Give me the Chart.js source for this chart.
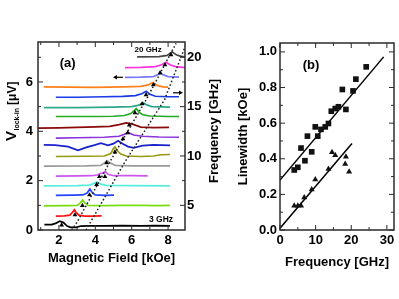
<!DOCTYPE html>
<html>
<head>
<meta charset="utf-8">
<title>FMR spectra and linewidth</title>
<script src="https://cdn.jsdelivr.net/npm/chart.js@4.4.0/dist/chart.umd.min.js"></script>
<style>
  body { margin: 0; background: #fff; }
  #wrapA { position: absolute; left: 0; top: 0; width: 222px; height: 299px; }
  #wrapB { position: absolute; left: 222px; top: 0; width: 177px; height: 299px; }
</style>
</head>
<body>
<div id="wrapA"><canvas id="chartA"></canvas></div>
<div id="wrapB"><canvas id="chartB"></canvas></div>
<script>
// ---- panel (a): lock-in traces, [field kOe, signal uV], one per frequency (GHz)
const freqsA = [3, 4, 5, 6, 7, 8, 9, 10, 11, 12, 13, 14, 15, 16, 17, 18, 19, 20];
const trace03 = [[1.2,0.22],[1.6,0.22],[1.85,0.28],[2.05,0.36],[2.25,0.3],[2.45,0.16],[2.65,0.11],[2.95,0.11],[3.2,0.16],[3.6,0.17],[4.5,0.17],[5.5,0.18],[6.5,0.17],[7.3,0.18],[8.1,0.17]];
const trace04 = [[1.83,0.56],[2.3,0.57],[2.6,0.6],[2.75,0.72],[2.85,0.82],[2.95,0.7],[3.1,0.6],[3.4,0.56],[3.8,0.56],[4.35,0.57]];
const trace05 = [[1.17,0.98],[2.5,0.99],[3.0,1.0],[3.18,1.1],[3.3,1.22],[3.42,1.1],[3.6,1.0],[4.5,0.99],[5.5,1.0],[6.5,1.0],[7.5,0.99],[8.1,1.0]];
const trace06 = [[1.83,1.4],[2.8,1.41],[3.3,1.42],[3.55,1.5],[3.7,1.66],[3.85,1.5],[4.0,1.42],[4.5,1.4],[5.03,1.41]];
const trace07 = [[1.17,1.79],[3.0,1.8],[3.7,1.82],[3.95,1.9],[4.1,1.95],[4.3,1.86],[4.6,1.81],[6,1.8],[8.11,1.79]];
const trace08 = [[1.83,2.18],[3.0,2.19],[3.8,2.2],[4.1,2.23],[4.3,2.3],[4.4,2.3],[4.55,2.37],[4.7,2.26],[5.0,2.2],[6.0,2.2],[6.88,2.19]];
const trace09 = [[1.17,2.59],[3.5,2.6],[4.3,2.62],[4.5,2.72],[4.65,2.81],[4.8,2.72],[5.1,2.62],[6,2.6],[8.11,2.6]];
const trace10 = [[1.83,2.98],[3.5,2.99],[4.5,3.0],[4.85,3.1],[5.0,3.3],[5.08,3.37],[5.2,3.22],[5.4,3.08],[5.7,3.0],[6.5,2.98],[7.2,3.0],[7.6,3.05],[8.11,3.06]];
const trace11 = [[1.17,3.45],[1.8,3.44],[2.5,3.38],[3.05,3.23],[3.5,3.35],[4.0,3.45],[4.3,3.52],[4.7,3.43],[5.0,3.5],[5.25,3.62],[5.5,3.5],[5.8,3.38],[6.1,3.33],[6.6,3.42],[7.2,3.45],[8.11,3.43]];
const trace12 = [[1.83,3.72],[3,3.74],[4.5,3.76],[5.3,3.8],[5.6,3.88],[5.8,3.95],[6.1,3.85],[6.6,3.8],[7.5,3.77],[8.6,3.76]];
const trace13 = [[0.85,4.13],[2,4.14],[3,4.16],[4,4.18],[4.8,4.2],[5.3,4.27],[5.7,4.34],[6.0,4.3],[6.5,4.17],[7.2,4.15],[8.05,4.16]];
const trace14 = [[1.83,4.6],[3,4.6],[4,4.6],[5,4.61],[5.6,4.64],[5.95,4.72],[6.15,4.85],[6.25,4.92],[6.4,4.78],[6.6,4.67],[7,4.62],[8,4.6],[8.6,4.6]];
const trace15 = [[1.17,4.96],[3,4.96],[5,4.98],[6,5.0],[6.4,5.06],[6.62,5.17],[6.8,5.08],[7.1,5.0],[8.11,4.98]];
const trace16 = [[1.83,5.38],[3,5.38],[4.5,5.4],[5.5,5.42],[6.2,5.45],[6.55,5.52],[6.8,5.62],[7.0,5.5],[7.3,5.42],[8,5.4],[8.6,5.4]];
const trace17 = [[1.17,5.8],[2.5,5.79],[4,5.78],[5.5,5.8],[6.5,5.82],[6.9,5.88],[7.17,5.98],[7.4,5.86],[7.7,5.8],[8.0,5.79]];
const trace18 = [[5.63,6.19],[6.5,6.2],[7.2,6.22],[7.45,6.3],[7.56,6.38],[7.7,6.3],[8,6.22],[8.6,6.2]];
const trace19 = [[5.63,6.58],[6.5,6.59],[7.3,6.62],[7.65,6.7],[7.89,6.8],[8.1,6.7],[8.4,6.62],[9.0,6.58]];
const trace20 = [[6.3,7.02],[7.5,7.03],[7.95,7.08],[8.22,7.22],[8.45,7.1],[8.7,7.04],[8.93,7.03]];
const tracesA = [trace03, trace04, trace05, trace06, trace07, trace08, trace09, trace10, trace11,
                 trace12, trace13, trace14, trace15, trace16, trace17, trace18, trace19, trace20];

// resonance positions (triangles) on the traces
const resField = [2.15, 2.88, 3.29, 3.68, 4.07, 4.22, 4.53, 4.62, 5.08, 5.52, 5.78, 5.87, 6.18, 6.57, 6.79, 7.19, 7.56, 7.83, 8.16];
const resVolt  = [0.2, 0.61, 0.99, 1.42, 1.84, 2.16, 2.16, 2.72, 3.16, 3.69, 3.94, 4.25, 4.75, 5.11, 5.48, 5.88, 6.37, 6.69, 7.1];

// dotted curves, [field kOe, frequency GHz]
const curveLeft  = [[2.7,2.5],[3.0,3.3],[4.86,9.6],[6.79,15.68],[8.16,20.45],[8.44,21.4]];
const curveRight = [[3.49,2.5],[5.63,9.4],[7.8,15.68],[9.08,21.77]];

const fieldTicks = [2, 4, 6, 8];
const voltTicks = [0, 2, 4, 6];
const freqTicksA = [5, 10, 15, 20];

// ---- panel (b): linewidth vs frequency
const sqFreq  = [4.0, 5.0, 5.9, 7.0, 7.7, 8.9, 9.9, 10.6, 11.5, 12.7, 13.6, 14.4, 15.5, 16.4, 17.5, 18.5, 20.5, 21.3, 24.2];
const sqWidth = [0.337, 0.352, 0.46, 0.389, 0.527, 0.439, 0.579, 0.527, 0.565, 0.579, 0.598, 0.667, 0.682, 0.692, 0.789, 0.677, 0.781, 0.847, 0.916];
const triFreq  = [4.0, 5.0, 5.9, 6.8, 8.9, 9.9, 13.6, 14.6, 15.5, 18.3, 18.5, 19.4];
const triWidth = [0.136, 0.136, 0.136, 0.183, 0.228, 0.284, 0.342, 0.436, 0.42, 0.37, 0.411, 0.327];
const fitUpper = [[0, 0.28], [29.1, 0.972]];
const fitLower = [[0, 0.01], [20.2, 0.486]];
const freqTicksB = [0, 10, 20, 30];
const widthTicks = [0, 0.2, 0.4, 0.6, 0.8, 1.0];

// ---- styles
const traceColors = ['#000000', '#ff1010', '#77dd11', '#2244ff', '#55eedd', '#cc55ee', '#9a9a9a', '#999911', '#1a22cc',
                     '#8833dd', '#8b0a0a', '#22aa22', '#2ea88a', '#1a3ae6', '#ff7f1a', '#7777ff', '#ff33dd', '#444444'];
const family = "'Liberation Sans', Arial, Helvetica, sans-serif";
const tickFont = { family: family, size: 13, weight: 'bold' };
const noGrid = { display: false, drawTicks: false };

const pts = arr => arr.map(p => ({ x: p[0], y: p[1] }));
const zip = (xs, ys) => xs.map((x, i) => ({ x: x, y: ys[i] }));
const fixedSize = px => s => { if (s.isHorizontal()) s.height = px; else s.width = px; };
const setTicks = vals => s => { s.ticks = vals.map(v => ({ value: v })); };
const range = (a, b, st) => { const r = []; for (let v = a; v <= b + 1e-9; v += st) r.push(+v.toFixed(3)); return r; };

// frame + inward tick marks
const boxTicks = {
  id: 'boxTicks',
  afterDatasetsDraw(chart, args, opts) {
    const { ctx, chartArea: a } = chart;
    ctx.save();
    ctx.strokeStyle = '#2b2b2b';
    ctx.lineWidth = 1;
    (opts.marks || []).forEach(m => {
      const sc = chart.scales[m.scale];
      m.values.forEach(v => {
        const p = sc.getPixelForValue(v);
        m.sides.forEach(side => {
          ctx.beginPath();
          if (side === 'bottom') { ctx.moveTo(p, a.bottom); ctx.lineTo(p, a.bottom - m.len); }
          if (side === 'top') { ctx.moveTo(p, a.top); ctx.lineTo(p, a.top + m.len); }
          if (side === 'left') { ctx.moveTo(a.left, p); ctx.lineTo(a.left + m.len, p); }
          if (side === 'right') { ctx.moveTo(a.right, p); ctx.lineTo(a.right - m.len, p); }
          ctx.stroke();
        });
      });
    });
    ctx.lineWidth = 1.5;
    ctx.strokeRect(a.left, a.top, a.right - a.left, a.bottom - a.top);
    ctx.restore();
  }
};

// text labels and arrows placed in data coordinates
const notes = {
  id: 'notes',
  afterDraw(chart, args, opts) {
    const ctx = chart.ctx;
    ctx.save();
    ctx.fillStyle = '#000';
    ctx.strokeStyle = '#000';
    (opts.texts || []).forEach(t => {
      const x = chart.scales.x.getPixelForValue(t.x);
      const y = chart.scales.y.getPixelForValue(t.y);
      ctx.font = 'bold ' + t.size + 'px ' + family;
      ctx.textAlign = 'center';
      ctx.textBaseline = 'middle';
      ctx.fillText(t.text, x, y);
    });
    (opts.arrows || []).forEach(r => {
      const x1 = chart.scales.x.getPixelForValue(r.from);
      const x2 = chart.scales.x.getPixelForValue(r.to);
      const y = chart.scales.y.getPixelForValue(r.y);
      const d = x2 > x1 ? 1 : -1;
      ctx.lineWidth = 1.2;
      ctx.beginPath(); ctx.moveTo(x1, y); ctx.lineTo(x2 - d * 3, y); ctx.stroke();
      ctx.beginPath(); ctx.moveTo(x2, y); ctx.lineTo(x2 - d * 4, y - 2.2); ctx.lineTo(x2 - d * 4, y + 2.2); ctx.closePath(); ctx.fill();
    });
    ctx.restore();
  }
};

// y titles of panel (a): subscripted left one and bottom-to-top right one
const sideTitlesA = {
  id: 'sideTitlesA',
  afterDraw(chart) {
    const ctx = chart.ctx;
    ctx.save();
    ctx.fillStyle = '#000';
    ctx.translate(16, 141);
    ctx.rotate(-Math.PI / 2);
    ctx.textAlign = 'left';
    ctx.textBaseline = 'alphabetic';
    ctx.font = 'bold 15px ' + family;
    ctx.fillText('V', 0, 0);
    let w = ctx.measureText('V').width + 0.5;
    ctx.font = 'bold 7px ' + family;
    ctx.fillText('lock-in', w, 3);
    w += ctx.measureText('lock-in').width + 3;
    ctx.font = 'bold 12px ' + family;
    ctx.fillText('[\u03bcV]', w, 0);
    ctx.restore();

    ctx.save();
    ctx.fillStyle = '#000';
    ctx.translate(214, 131);
    ctx.rotate(-Math.PI / 2);
    ctx.textAlign = 'center';
    ctx.textBaseline = 'middle';
    ctx.font = 'bold 13px ' + family;
    ctx.fillText('Frequency [GHz]', 0, 0);
    ctx.restore();
  }
};

const traceSets = tracesA.map((tr, i) => ({
  label: freqsA[i] + ' GHz',
  data: pts(tr),
  showLine: true,
  borderColor: traceColors[i],
  borderWidth: 1.7,
  pointRadius: 0,
  yAxisID: 'y',
  order: 3
}));

new Chart(document.getElementById('chartA'), {
  type: 'scatter',
  data: {
    datasets: traceSets.concat([
      { label: 'resonance', data: zip(resField, resVolt), pointStyle: 'triangle', pointRadius: 2.8,
        backgroundColor: '#000', borderColor: '#000', borderWidth: 0, yAxisID: 'y', order: 0 },
      { label: 'curve 1', data: pts(curveLeft), showLine: true, borderColor: '#222', borderWidth: 1.5,
        borderDash: [1.6, 2.2], pointRadius: 0, yAxisID: 'y2', order: 1 },
      { label: 'curve 2', data: pts(curveRight), showLine: true, borderColor: '#222', borderWidth: 1.5,
        borderDash: [1.6, 2.2], pointRadius: 0, yAxisID: 'y2', order: 1 }
    ])
  },
  options: {
    responsive: true,
    maintainAspectRatio: false,
    animation: false,
    devicePixelRatio: 1,
    layout: { padding: { top: 42, left: 0, right: 0, bottom: 0 } },
    plugins: {
      legend: { display: false },
      tooltip: { enabled: false },
      boxTicks: {
        marks: [
          { scale: 'x', values: fieldTicks, len: 5, sides: ['bottom', 'top'] },
          { scale: 'x', values: [1, 3, 5, 7], len: 3, sides: ['bottom', 'top'] },
          { scale: 'y', values: voltTicks, len: 5, sides: ['left'] },
          { scale: 'y', values: [1, 3, 5, 7], len: 3, sides: ['left'] },
          { scale: 'y2', values: freqTicksA, len: 5, sides: ['right'] },
          { scale: 'y2', values: [7.5, 12.5, 17.5], len: 3, sides: ['right'] }
        ]
      },
      notes: {
        texts: [
          { text: '(a)', x: 2.48, y: 6.77, size: 13 },
          { text: '20 GHz', x: 6.9, y: 7.3, size: 8 },
          { text: '3 GHz', x: 7.61, y: 0.41, size: 8.5 }
        ],
        arrows: [
          { from: 5.52, to: 4.97, y: 6.19 },
          { from: 8.27, to: 8.82, y: 5.56 }
        ]
      }
    },
    scales: {
      x: {
        type: 'linear', position: 'bottom', min: 0.85, max: 8.93,
        afterFit: fixedSize(69), afterBuildTicks: setTicks(fieldTicks),
        grid: noGrid, border: { display: false },
        ticks: { autoSkip: false, padding: 3, color: '#000', font: tickFont },
        title: { display: true, text: 'Magnetic Field [kOe]', color: '#000', font: tickFont, padding: { top: 0, bottom: 33 } }
      },
      y: {
        type: 'linear', position: 'left', min: 0, max: 7.62,
        afterFit: fixedSize(38), afterBuildTicks: setTicks(voltTicks),
        grid: noGrid, border: { display: false },
        ticks: { autoSkip: false, padding: 5, color: '#000', font: tickFont }
      },
      y2: {
        type: 'linear', position: 'right', min: 2.5, max: 21.55,
        afterFit: fixedSize(37), afterBuildTicks: setTicks(freqTicksA),
        grid: noGrid, border: { display: false },
        ticks: { autoSkip: false, padding: 2, color: '#000', font: tickFont }
      }
    }
  },
  plugins: [boxTicks, notes, sideTitlesA]
});

new Chart(document.getElementById('chartB'), {
  type: 'scatter',
  data: {
    datasets: [
      { label: 'squares', data: zip(sqFreq, sqWidth), pointStyle: 'rect', pointRadius: 4,
        backgroundColor: '#111', borderWidth: 0, order: 0 },
      { label: 'triangles', data: zip(triFreq, triWidth), pointStyle: 'triangle', pointRadius: 3.5,
        backgroundColor: '#111', borderWidth: 0, order: 0 },
      { label: 'fit 1', data: pts(fitUpper), showLine: true, borderColor: '#000', borderWidth: 1.5, pointRadius: 0, order: 1 },
      { label: 'fit 2', data: pts(fitLower), showLine: true, borderColor: '#000', borderWidth: 1.5, pointRadius: 0, order: 1 }
    ]
  },
  options: {
    responsive: true,
    maintainAspectRatio: false,
    animation: false,
    devicePixelRatio: 1,
    layout: { padding: { top: 43, left: 0, right: 5, bottom: 0 } },
    plugins: {
      legend: { display: false },
      tooltip: { enabled: false },
      boxTicks: {
        marks: [
          { scale: 'x', values: freqTicksB, len: 5, sides: ['bottom', 'top'] },
          { scale: 'x', values: [5, 15, 25], len: 3, sides: ['bottom', 'top'] },
          { scale: 'y', values: widthTicks, len: 5, sides: ['left', 'right'] },
          { scale: 'y', values: range(0.1, 0.9, 0.2), len: 3, sides: ['left', 'right'] }
        ]
      },
      notes: { texts: [{ text: '(b)', x: 8.7, y: 0.925, size: 13 }] }
    },
    scales: {
      x: {
        type: 'linear', position: 'bottom', min: 0, max: 32,
        afterFit: fixedSize(69), afterBuildTicks: setTicks(freqTicksB),
        grid: noGrid, border: { display: false },
        ticks: { autoSkip: false, padding: 3, color: '#000', font: tickFont },
        title: { display: true, text: 'Frequency [GHz]', color: '#000', font: tickFont, padding: { top: 0, bottom: 29 } }
      },
      y: {
        type: 'linear', position: 'left', min: 0, max: 1.05,
        afterFit: fixedSize(58), afterBuildTicks: setTicks(widthTicks),
        grid: noGrid, border: { display: false },
        ticks: { autoSkip: false, padding: 3, color: '#000', font: tickFont, callback: v => v.toFixed(1) },
        title: { display: true, text: 'Linewidth [kOe]', color: '#000', font: tickFont, padding: { top: 14, bottom: 0 } }
      }
    }
  },
  plugins: [boxTicks, notes]
});
</script>
</body>
</html>
